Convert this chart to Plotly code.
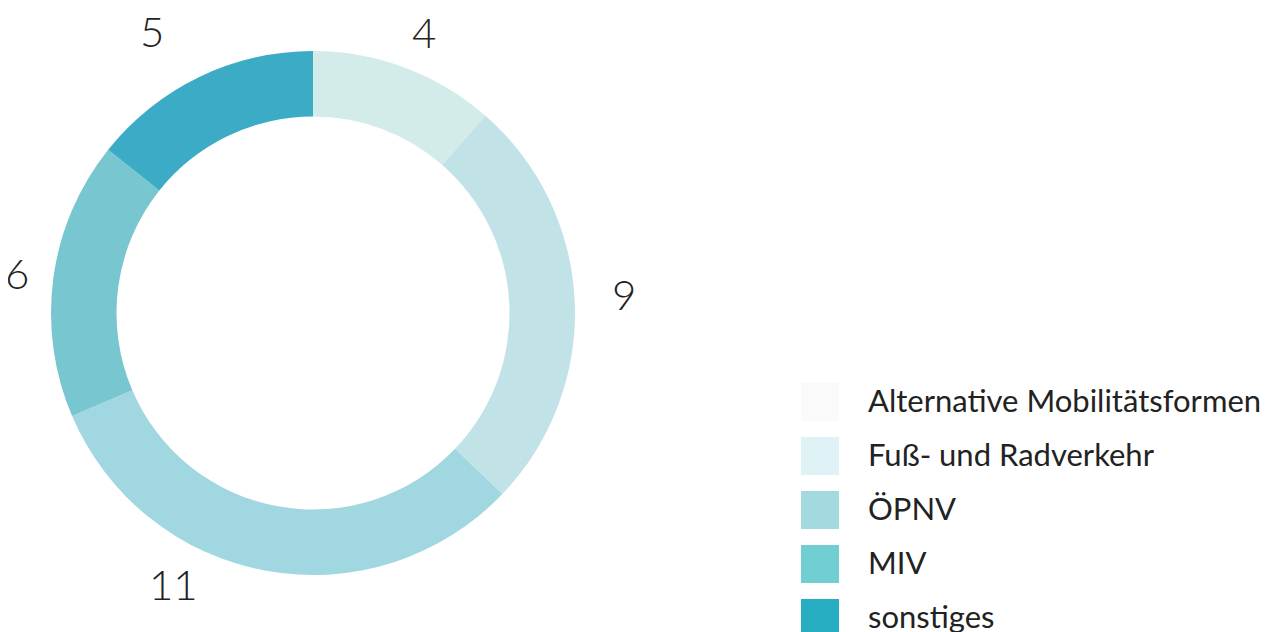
import math
import plotly.graph_objects as go

# Data
slice_values = [4, 9, 11, 6, 5]
slice_colors = ["#d3ecea", "#c1e3e8", "#a0d7e1", "#78c7d0", "#3babc6"]
legend_labels = ["Alternative Mobilitätsformen", "Fuß- und Radverkehr", "ÖPNV", "MIV", "sonstiges"]
legend_colors = ["#fafafa", "#dff2f5", "#a3dadf", "#71ced2", "#28aec3"]

W, H = 1278, 632
OFF = 8  # page body margin
cx, cy, R = 313 - OFF, 313 - OFF, 262  # pixel geometry of the donut (figure coords)
label_r = 305
# label placement tweaks (angle shift in degrees, radial shift in px), per slice index
label_angle_shift = [1, -1, 17, 0, -4]
label_radius_shift = [-3, 7, 0, -6, 20]

fig = go.Figure()
fig.add_trace(go.Pie(
    values=slice_values,
    labels=[str(v) + "_" + str(i) for i, v in enumerate(slice_values)],
    marker=dict(colors=slice_colors, line=dict(width=0)),
    hole=0.75,
    sort=False,
    direction="clockwise",
    rotation=0,
    textinfo="none",
    hoverinfo="value",
    showlegend=False,
    domain=dict(x=[(cx - R) / W, (cx + R) / W], y=[(H - cy - R) / H, (H - cy + R) / H]),
))

annotations = []
shapes = []
total = sum(slice_values)
cum = 0
for i, v in enumerate(slice_values):
    mid = (cum + v / 2) / total * 2 * math.pi + math.radians(label_angle_shift[i])
    cum += v
    r = label_r + label_radius_shift[i]
    px = cx + r * math.sin(mid)
    py = cy - r * math.cos(mid)
    annotations.append(dict(
        x=px / W, y=1 - py / H, xref="paper", yref="paper",
        text=str(v), showarrow=False, xanchor="center", yanchor="middle",
        font=dict(family="Lato", size=42, color="#222222", weight=300),
    ))

# Legend drawn manually
for i, (lab, col) in enumerate(zip(legend_labels, legend_colors)):
    top = 383 - OFF + 54 * i
    shapes.append(dict(
        type="rect", xref="paper", yref="paper",
        x0=(801 - OFF) / W, x1=(839 - OFF) / W, y0=1 - (top + 38) / H, y1=1 - top / H,
        fillcolor=col, line=dict(width=0),
    ))
    annotations.append(dict(
        x=(866 - OFF) / W, y=1 - (top + 17) / H, xref="paper", yref="paper",
        text=lab, showarrow=False, xanchor="left", yanchor="middle",
        font=dict(family="Lato", size=31, color="#222222"),
    ))

fig.update_layout(
    width=W, height=H,
    margin=dict(l=0, r=0, t=0, b=0),
    paper_bgcolor="white",
    plot_bgcolor="white",
    annotations=annotations,
    shapes=shapes,
)

fig.write_html("out.html")
